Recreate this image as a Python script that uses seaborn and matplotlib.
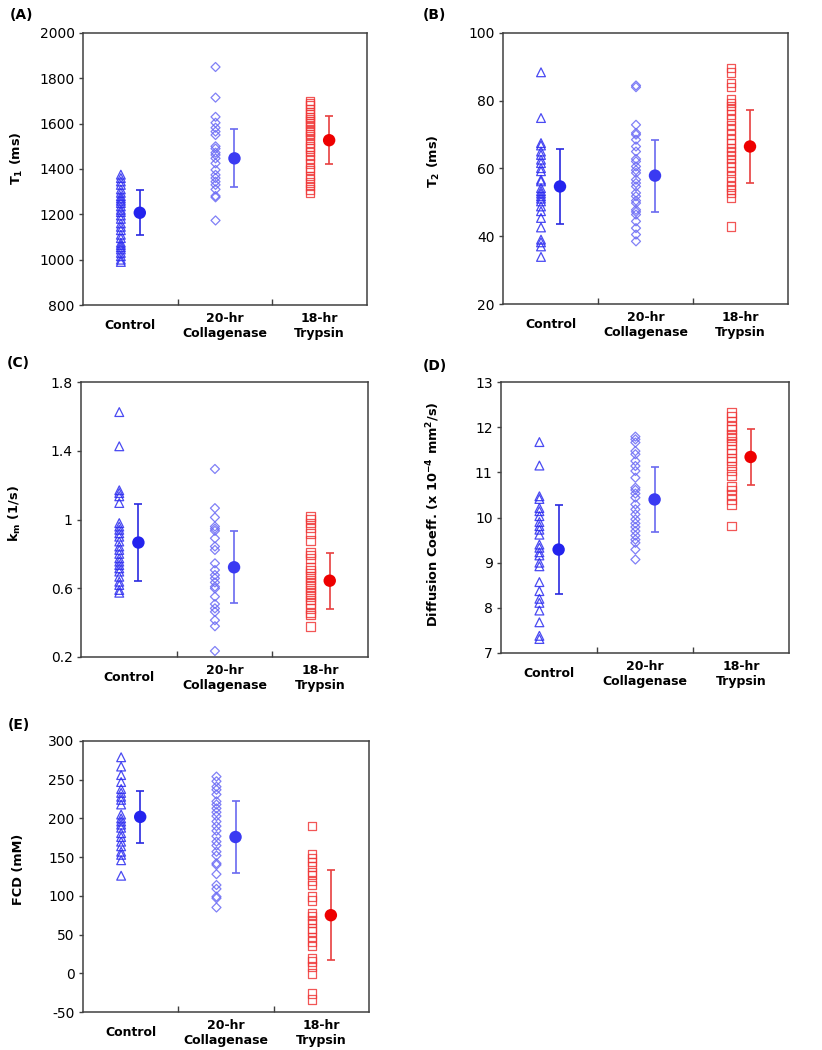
import numpy as np
import pandas as pd
import matplotlib
matplotlib.use("Agg")
import matplotlib.pyplot as plt
import seaborn as sns

# Groups and tick labels
groups = ["Control", "Collagenase", "Trypsin"]
tick_labels = ["Control", "20-hr\nCollagenase", "18-hr\nTrypsin"]

# (A) T1 (ms)
t1_control = [1375, 1360, 1345, 1330, 1310, 1295, 1280, 1270, 1260, 1250, 1235, 1220, 1210, 1195,
              1180, 1160, 1145, 1130, 1110, 1095, 1075, 1065, 1055, 1045, 1030, 1015, 1000, 990]
t1_collagenase = [1850, 1715, 1630, 1604, 1582, 1565, 1550, 1500, 1490, 1472, 1462, 1447, 1425,
                  1396, 1374, 1360, 1344, 1330, 1310, 1281, 1275, 1173]
t1_trypsin = [1700, 1690, 1680, 1665, 1650, 1640, 1630, 1620, 1610, 1600, 1590, 1575, 1565, 1555,
              1545, 1530, 1515, 1500, 1490, 1475, 1460, 1445, 1425, 1405, 1395, 1370, 1355, 1340,
              1325, 1310, 1295]
t1_mean = [1207, 1447, 1527]
t1_sd = [100, 128, 107]

# (B) T2 (ms)
t2_control = [88.4, 74.9, 67.5, 66.8, 65.0, 64.0, 62.6, 61.6, 60.1, 59.2, 56.7, 56.2, 54.2, 53.3,
              52.6, 51.8, 51.1, 50.3, 48.8, 47.4, 45.4, 42.6, 39.0, 38.2, 37.0, 33.9]
t2_collagenase = [84.5, 84.0, 72.9, 70.5, 70.0, 68.5, 66.5, 65.0, 62.8, 62.1, 60.6, 59.5, 58.7,
                  56.7, 55.7, 54.7, 52.8, 51.8, 50.5, 49.8, 47.8, 47.2, 46.4, 44.4, 42.4, 40.5, 38.5]
t2_trypsin = [89.7, 88.4, 85.2, 84.0, 80.3, 79.3, 78.4, 77.4, 75.9, 74.4, 72.9, 71.5, 70.0, 68.5,
              67.3, 66.0, 65.0, 64.0, 62.8, 61.6, 60.6, 59.2, 57.7, 56.2, 54.7, 53.8, 52.8, 51.3, 42.9]
t2_mean = [54.7, 57.9, 66.5]
t2_sd = [11.1, 10.6, 10.8]

# (C) km (1/s)
km_control = [1.625, 1.426, 1.17, 1.154, 1.135, 1.096, 0.979, 0.959, 0.94, 0.92, 0.90, 0.872, 0.843,
              0.823, 0.80, 0.774, 0.755, 0.735, 0.716, 0.697, 0.667, 0.638, 0.619, 0.59, 0.574]
km_collagenase = [1.294, 1.066, 1.012, 0.959, 0.946, 0.934, 0.891, 0.843, 0.823, 0.745, 0.706, 0.677,
                  0.658, 0.634, 0.609, 0.599, 0.551, 0.508, 0.483, 0.463, 0.414, 0.379, 0.235]
km_trypsin = [1.018, 1.002, 0.979, 0.95, 0.92, 0.878, 0.808, 0.794, 0.774, 0.72, 0.706, 0.687, 0.667,
              0.648, 0.629, 0.609, 0.59, 0.57, 0.551, 0.531, 0.512, 0.483, 0.457, 0.444, 0.379]
km_mean = [0.866, 0.722, 0.644]
km_sd = [0.224, 0.209, 0.163]

# (D) Diffusion coefficient (x 10^-4 mm^2/s)
dc_control = [11.67, 11.15, 10.47, 10.41, 10.21, 10.14, 10.03, 9.90, 9.81, 9.73, 9.62, 9.40, 9.33,
              9.23, 9.16, 9.00, 8.92, 8.57, 8.37, 8.20, 8.11, 7.94, 7.68, 7.38, 7.31]
dc_collagenase = [11.79, 11.73, 11.66, 11.47, 11.40, 11.25, 11.14, 11.03, 10.88, 10.66, 10.61, 10.53,
                  10.44, 10.29, 10.18, 10.07, 9.96, 9.87, 9.79, 9.70, 9.60, 9.51, 9.44, 9.29, 9.07]
dc_trypsin = [12.32, 12.23, 12.14, 12.02, 11.95, 11.84, 11.77, 11.69, 11.62, 11.51, 11.43, 11.32,
              11.25, 11.14, 11.03, 10.92, 10.69, 10.61, 10.51, 10.40, 10.29, 9.81]
dc_mean = [9.29, 10.40, 11.34]
dc_sd = [0.99, 0.71, 0.63]

# (E) FCD (mM)
fcd_control = [279, 267, 256, 247, 238, 233, 228, 224, 218, 205, 200, 196, 192, 188, 181, 176, 170,
               164, 157, 153, 146, 126]
fcd_collagenase = [254, 248, 241, 237, 231, 222, 218, 213, 208, 203, 196, 190, 184, 177, 170, 165,
                   157, 152, 142, 140, 128, 114, 109, 99, 97, 85]
fcd_trypsin = [190, 154, 149, 144, 138, 131, 127, 119, 114, 99, 94, 78, 74, 69, 65, 58, 54, 47, 41,
               35, 19, 15, 9, 0, -26, -34]
fcd_mean = [202, 176, 75]
fcd_sd = [34, 46, 58]

sns.set_theme(style="white")
plt.rcParams["font.family"] = ["DejaVu Sans"]
plt.rcParams["mathtext.fontset"] = "custom"
plt.rcParams["mathtext.rm"] = "DejaVu Sans:bold"
plt.rcParams["mathtext.bf"] = "DejaVu Sans:bold"
plt.rcParams["mathtext.default"] = "bf"
plt.rcParams["axes.unicode_minus"] = False
plt.rcParams["text.color"] = "black"
plt.rcParams["axes.labelcolor"] = "black"
plt.rcParams["xtick.labelcolor"] = "black"
plt.rcParams["ytick.labelcolor"] = "black"

markers = {"Control": "^", "Collagenase": "D", "Trypsin": "s"}
sizes = {"Control": 40, "Collagenase": 21, "Trypsin": 38}
colors = {"Control": "#2a2af0", "Collagenase": "#6a6af5", "Trypsin": "#f03838"}
mean_colors = ["#2323ee", "#3a3af2", "#ee0000"]
bar_colors = ["#2a2ae0", "#6a6af0", "#e84040"]

panels = [
    ("(A)", r"T$_1$ (ms)", (t1_control, t1_collagenase, t1_trypsin), t1_mean, t1_sd,
     (800, 2000), np.arange(800, 2001, 200), None),
    ("(B)", r"T$_2$ (ms)", (t2_control, t2_collagenase, t2_trypsin), t2_mean, t2_sd,
     (20, 100), np.arange(20, 101, 20), None),
    ("(C)", r"k$_m$ (1/s)", (km_control, km_collagenase, km_trypsin), km_mean, km_sd,
     (0.2, 1.8), [0.2, 0.6, 1.0, 1.4, 1.8], ["0.2", "0.6", "1", "1.4", "1.8"]),
    ("(D)", r"Diffusion Coeff. (x 10$^{-4}$ mm$^2$/s)", (dc_control, dc_collagenase, dc_trypsin),
     dc_mean, dc_sd, (7, 13), np.arange(7, 14, 1), None),
    ("(E)", "FCD (mM)", (fcd_control, fcd_collagenase, fcd_trypsin), fcd_mean, fcd_sd,
     (-50, 300), np.arange(-50, 301, 50), None),
]

# axes boxes in pixels: left, right, top, bottom
boxes = [(83, 367, 33, 305), (503, 788, 33, 304), (81, 368, 382, 657),
         (501, 789, 382, 653), (83, 369, 741, 1012)]
# y-label right edge / centre (px) and panel tag position (px)
ylabel_xy = [(25, 158), (442, 161), (23, 514), (442, 514), (25, 869)]
tag_xy = [(10, 15), (423, 15), (7, 363), (423, 366), (8, 725)]

W, H = 822, 1050
fig = plt.figure(figsize=(W / 100, H / 100), dpi=100)

for (tag, ylabel, data, means, sds, ylim, yticks, ytl), (l, r, t, b), (lx, ly), (tx, ty) in zip(
        panels, boxes, ylabel_xy, tag_xy):
    ax = fig.add_axes([l / W, (H - b) / H, (r - l) / W, (b - t) / H])
    rows = []
    for i, (g, vals) in enumerate(zip(groups, data)):
        for v in vals:
            rows.append({"group": g, "pos": i + 0.4, "value": v})
    df = pd.DataFrame(rows)
    for g in groups:
        sub = df[df["group"] == g]
        sns.scatterplot(data=sub, x="pos", y="value", marker=markers[g], s=sizes[g],
                        facecolors="none", edgecolor=colors[g], linewidth=0.9,
                        alpha=0.85, ax=ax, legend=False)
    mpos = np.arange(len(groups)) + 0.6
    for i in range(len(groups)):
        ax.errorbar(mpos[i], means[i], yerr=sds[i], fmt="none", ecolor=bar_colors[i],
                    elinewidth=1.2, capsize=3, capthick=1.2, zorder=3)
    mdf = pd.DataFrame({"pos": mpos, "value": means, "group": groups})
    sns.scatterplot(data=mdf, x="pos", y="value", hue="group", palette=mean_colors,
                    s=80, edgecolor="none", ax=ax, legend=False, zorder=4)

    ax.set_xlim(0, 3)
    ax.set_ylim(*ylim)
    ax.set_yticks(yticks)
    if ytl is not None:
        ax.set_yticklabels(ytl)
    ax.set_xticks([0.5, 1.5, 2.5])
    ax.set_xticklabels(tick_labels, fontweight="bold", fontsize=9, va="center",
                       multialignment="center")
    ax.set_xticks([1, 2], minor=True)
    ax.tick_params(axis="x", which="major", length=0, pad=15)
    ax.tick_params(axis="x", which="minor", direction="in", length=4, width=1,
                   color="#404040", bottom=True)
    ax.tick_params(axis="y", direction="out", length=3, width=1, color="#404040",
                   labelsize=10, left=True, pad=3)
    ax.set_xlabel("")
    ax.set_ylabel(ylabel, fontweight="bold", fontsize=9.3)
    ax.yaxis.set_label_coords((lx - l) / (r - l), (b - ly) / (b - t))
    for sp in ax.spines.values():
        sp.set_color("#404040")
        sp.set_linewidth(1.1)
    fig.text(tx / W, (H - ty) / H, tag, fontweight="bold", fontsize=10,
             ha="left", va="center")

fig.savefig("out.png", dpi=100)
